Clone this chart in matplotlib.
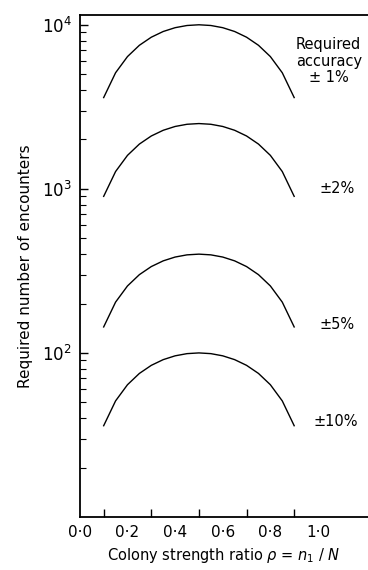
import numpy as np
import matplotlib.pyplot as plt
from matplotlib.ticker import FixedLocator, LogLocator, NullFormatter

# %%
# Data
p = [0.10, 0.15, 0.20, 0.25, 0.30, 0.35, 0.40, 0.45, 0.50,
     0.55, 0.60, 0.65, 0.70, 0.75, 0.80, 0.85, 0.90]

n_1pc = [3600, 5100, 6400, 7500, 8400, 9100, 9600, 9900, 10000,
         9900, 9600, 9100, 8400, 7500, 6400, 5100, 3600]
n_2pc = [900, 1275, 1600, 1875, 2100, 2275, 2400, 2475, 2500,
         2475, 2400, 2275, 2100, 1875, 1600, 1275, 900]
n_5pc = [144, 204, 256, 300, 336, 364, 384, 396, 400,
         396, 384, 364, 336, 300, 256, 204, 144]
n_10pc = [36, 51, 64, 75, 84, 91, 96, 99, 100,
          99, 96, 91, 84, 75, 64, 51, 36]

curves = [n_1pc, n_2pc, n_5pc, n_10pc]
curve_labels = ["Required\naccuracy\n\u00b1 1%", "\u00b12%", "\u00b15%", "\u00b110%"]
label_x = [1.045, 1.08, 1.08, 1.075]
label_y = [6000, 1000, 150, 38]

x_ticks = [0.1, 0.2, 0.3, 0.4, 0.5, 0.6, 0.7, 0.8, 0.9, 1.0]
x_ticklabels = ["0\u00b70", "0\u00b72", "0\u00b74", "0\u00b76", "0\u00b78", "1\u00b70"]
x_ticklabel_pos = [0.0, 0.2, 0.4, 0.6, 0.8, 1.0]

# %%
fig = plt.figure(figsize=(3.68, 5.70), dpi=100)
ax = fig.add_axes([0.217, 0.093, 0.783, 0.881])

for vals in curves:
    ax.plot(p, vals, color="black", lw=1.0)

for txt, xx, yy in zip(curve_labels, label_x, label_y):
    ax.text(xx, yy, txt, ha="center", va="center", fontsize=10.5,
            linespacing=1.1)

ax.set_yscale("log")
ax.set_xlim(0, 1.21)
ax.set_ylim(10, 11500)

ax.spines["right"].set_visible(False)
for s in ["left", "bottom", "top"]:
    ax.spines[s].set_linewidth(1.3)

ax.xaxis.set_major_locator(FixedLocator(x_ticklabel_pos))
ax.set_xticklabels(x_ticklabels)
ax.xaxis.set_minor_locator(FixedLocator(x_ticks))
ax.tick_params(axis="x", which="major", direction="in", length=0, labelsize=11, pad=6)
ax.tick_params(axis="x", which="minor", direction="in", length=6, width=1)

ax.yaxis.set_major_locator(FixedLocator([100, 1000, 10000]))
ax.yaxis.set_minor_locator(LogLocator(base=10, subs=np.arange(2, 10)))
ax.yaxis.set_minor_formatter(NullFormatter())
ax.tick_params(axis="y", which="major", direction="in", length=6, width=1, labelsize=12, pad=6)
ax.tick_params(axis="y", which="minor", direction="in", length=4, width=0.8)

ax.set_ylabel("Required number of encounters", fontsize=11, labelpad=6)
ax.set_xlabel(r"Colony strength ratio $\rho$ = $n_1$ / $N$", fontsize=10.5, labelpad=4)

fig.savefig("out.png", dpi=100)
